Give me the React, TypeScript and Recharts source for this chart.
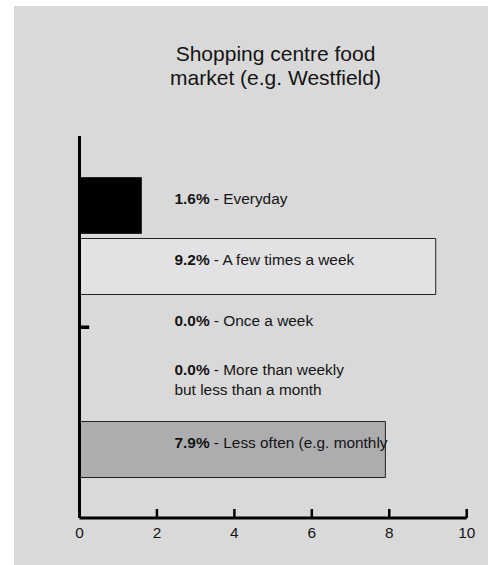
import React from 'react';
import { BarChart, Bar, XAxis, YAxis, Cell } from 'recharts';

const categories = [
  'Everyday',
  'A few times a week',
  'Once a week',
  'More than weekly\nbut less than a month',
  'Less often (e.g. monthly',
];
const percentages = [1.6, 9.2, 0.0, 0.0, 7.9];
const markerValues = [0, 0, 0.25, 0, 0];
const xTicks = [0, 2, 4, 6, 8, 10];
const barColors = ['#000000', '#e2e2e4', '#d9d9d9', '#d9d9d9', '#adadaf'];
const titleLines = ['Shopping centre food', 'market (e.g. Westfield)'];

const data = categories.map((c, i) => ({
  category: c,
  value: percentages[i],
  marker: markerValues[i],
}));

const FONT = '"Liberation Sans", Arial, Helvetica, sans-serif';

const renderCategoryLabel = (props: any) => {
  const { x, y, payload } = props;
  const index = categories.indexOf(payload.value);
  if (index < 0) return <g />;
  const cy = Number(y);
  const tx = Number(x) + 95;
  const lines = categories[index].split('\n');
  const pct = percentages[index].toFixed(1) + '%';
  if (lines.length === 1) {
    return (
      <text x={tx} y={cy - 1.5} fontSize={15.4} fill="#141414" fontFamily={FONT}>
        <tspan fontWeight="bold">{pct}</tspan>
        <tspan>{' - ' + lines[0]}</tspan>
      </text>
    );
  }
  return (
    <text x={tx} y={cy - 13} fontSize={15.4} fill="#141414" fontFamily={FONT}>
      <tspan fontWeight="bold">{pct}</tspan>
      <tspan>{' - ' + lines[0]}</tspan>
      <tspan x={tx} dy={19.5}>{lines[1]}</tspan>
    </text>
  );
};

const renderTick = (props: any) => {
  const { x, y, payload } = props;
  return (
    <g>
      <line x1={x} y1={y} x2={x} y2={y - 9} stroke="#000" strokeWidth={2.5} />
      <text x={x} y={y + 19.5} textAnchor="middle" fontSize={15.4} fill="#141414" fontFamily={FONT}>
        {payload.value}
      </text>
    </g>
  );
};

export default function App() {
  return (
    <div style={{ position: 'absolute', left: 0, top: 0, width: 488, height: 565, background: '#fff' }}>
      <div
        style={{
          position: 'absolute',
          left: 14,
          top: 6,
          width: 474,
          height: 559,
          background: '#d9d9d9',
        }}
      />
      <div
        style={{
          position: 'absolute',
          left: 125,
          top: 41.7,
          width: 301,
          textAlign: 'center',
          fontFamily: FONT,
          fontSize: 21,
          lineHeight: '24px',
          color: '#141414',
        }}
      >
        {titleLines.map((t) => (
          <div key={t}>{t}</div>
        ))}
      </div>
      <div style={{ position: 'absolute', left: 0, top: 0 }}>
        <BarChart
          width={488}
          height={565}
          data={data}
          layout="vertical"
          margin={{ top: 136, right: 21.3, bottom: 17, left: 78.5 }}
        >
          <XAxis
            type="number"
            domain={[0, 10]}
            ticks={xTicks}
            height={30}
            tickSize={0}
            tickMargin={0}
            tickLine={false}
            tick={renderTick}
            axisLine={{ stroke: '#000', strokeWidth: 3 }}
            interval={0}
          />
          <YAxis
            type="category"
            dataKey="category"
            width={1}
            tickSize={0}
            tickMargin={0}
            tickLine={false}
            tick={renderCategoryLabel}
            interval={0}
            padding={{ top: 38.5, bottom: 38.5 }}
            axisLine={{ stroke: '#000', strokeWidth: 3 }}
          />
          <YAxis
            yAxisId="marker"
            type="category"
            dataKey="category"
            width={0}
            hide
            padding={{ top: 38.5, bottom: 38.5 }}
          />
          <Bar dataKey="value" barSize={56} stroke="#222" strokeWidth={1} isAnimationActive={false}>
            {data.map((d, i) => (
              <Cell key={i} fill={barColors[i]} />
            ))}
          </Bar>
          <Bar dataKey="marker" yAxisId="marker" barSize={3.5} fill="#000" isAnimationActive={false} />
        </BarChart>
      </div>
    </div>
  );
}
